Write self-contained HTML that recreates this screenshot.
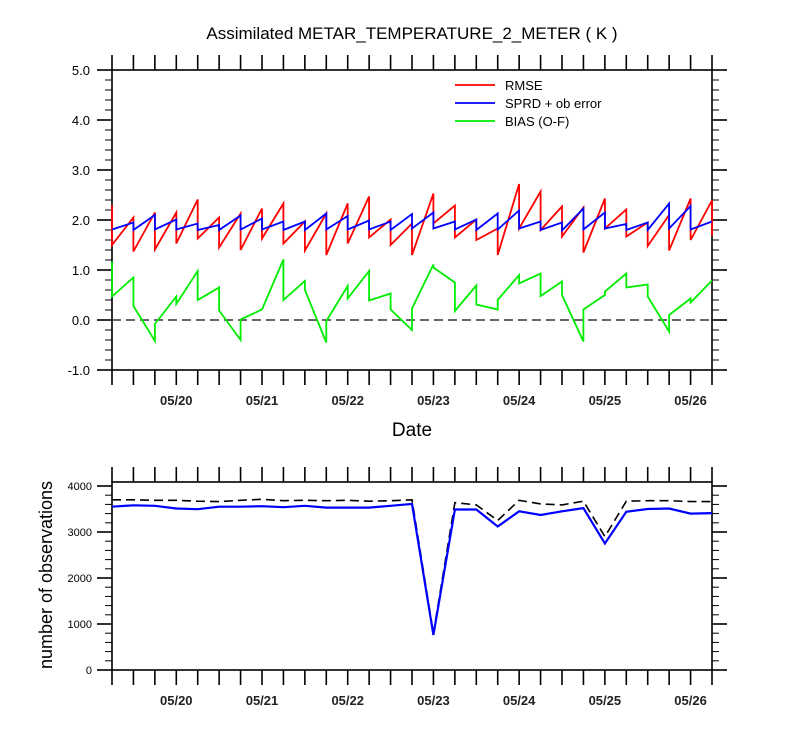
<!DOCTYPE html>
<html><head><meta charset="utf-8"><style>
body{margin:0;background:#fff;}
svg{display:block;font-family:"Liberation Sans",sans-serif;}
</style></head><body>
<svg id="chart" width="800" height="750" viewBox="0 0 800 750">
<text x="412" y="39" font-size="17" text-anchor="middle">Assimilated METAR_TEMPERATURE_2_METER ( K )</text>
<text x="412" y="436" font-size="19" text-anchor="middle">Date</text>
<text transform="translate(52,575) rotate(-90)" font-size="18" text-anchor="middle">number of observations</text>
<g id="topPanel"></g>
<g id="botPanel"></g>
</svg>
<script>
const dateLabels=["05/20","05/21","05/22","05/23","05/24","05/25","05/26"];
const dateTickIdx=[3,7,11,15,19,23,27];
const yTicksTop=[-1,0,1,2,3,4,5];
const yTicksBot=[0,1000,2000,3000,4000];
// prior/posterior pairs per 6h cycle
const rmsePrior=[2.3,2.05,2.15,2.15,2.41,2.05,2.13,2.23,2.33,1.97,2.13,2.33,2.47,2.01,1.93,2.53,2.29,2.01,1.83,2.72,2.57,2.27,2.25,2.43,2.21,1.95,2.1,2.43,2.39];
const rmsePost=[1.5,1.37,1.41,1.53,1.63,1.45,1.4,1.63,1.53,1.39,1.3,1.53,1.65,1.5,1.3,1.93,1.65,1.6,1.3,1.83,1.8,1.67,1.35,1.83,1.67,1.48,1.39,1.6,1.68];
const sprdPrior=[1.81,1.95,2.1,2.01,1.93,1.9,2.09,2.03,1.97,1.97,2.13,2.08,1.99,1.97,2.12,2.15,1.97,2.01,2.13,2.19,1.97,1.95,2.23,2.15,1.92,1.95,2.33,2.28,1.97];
const sprdPost=[1.81,1.8,1.81,1.81,1.8,1.8,1.81,1.81,1.8,1.8,1.81,1.81,1.81,1.8,1.83,1.83,1.81,1.8,1.81,1.83,1.8,1.79,1.81,1.83,1.8,1.8,1.83,1.81,1.97];
const biasPrior=[1.17,0.85,-0.42,0.47,0.98,0.65,-0.4,0.21,1.21,0.78,-0.45,0.68,0.98,0.53,-0.2,1.11,0.75,0.69,0.21,0.9,0.93,0.77,-0.43,0.5,0.93,0.71,-0.23,0.43,0.79];
const biasPost=[0.47,0.28,-0.08,0.32,0.4,0.19,0.01,0.21,0.4,0.6,-0.02,0.43,0.39,0.21,0.23,1.05,0.18,0.31,0.4,0.73,0.48,0.5,0.21,0.57,0.65,0.47,0.1,0.35,0.79];
const obsTotal=[3700,3700,3690,3690,3670,3660,3690,3710,3680,3690,3680,3690,3670,3680,3700,800,3640,3590,3250,3690,3610,3590,3670,2900,3670,3680,3680,3660,3660];
const obsUsed=[3550,3580,3570,3510,3495,3550,3550,3560,3540,3570,3530,3530,3530,3570,3610,760,3490,3490,3120,3450,3370,3450,3520,2750,3440,3500,3510,3400,3410];
const NS="http://www.w3.org/2000/svg";
const X0=112,X1=712,N=29;
function x(i){return X0+(X1-X0)*i/(N-1);}
function yT(v){return 70+(5-v)*50;}
function yB(v){return 670-v*0.046;}
function mk(p,tag,at){const e=document.createElementNS(NS,tag);for(const k in at)e.setAttribute(k,at[k]);p.appendChild(e);return e;}
function frame(g,y0,y1,name){
 const r=mk(g,'rect',{x:X0,y:y0,width:X1-X0,height:y1-y0,fill:'none',stroke:'#000','stroke-width':1.6});
 
 
 for(let i=0;i<N;i++){
  const t=mk(g,'line',{x1:x(i),x2:x(i),y1:y0,y2:y0-15,stroke:'#000','stroke-width':1.6});
  
  
  const b=mk(g,'line',{x1:x(i),x2:x(i),y1:y1,y2:y1+15,stroke:'#000','stroke-width':1.6});
  
  
 }
 dateLabels.forEach((d,k)=>{
  const t=mk(g,'text',{x:x(dateTickIdx[k]),y:y1+35,'font-size':13,'font-weight':'bold','text-anchor':'middle',fill:'#222'});
  t.textContent=d;
  
  
 });
}
function path(g,pts,col,w,dash,name){
 const p=mk(g,'path',{d:'M'+pts.map(q=>q[0].toFixed(1)+','+q[1].toFixed(1)).join('L'),fill:'none',stroke:col,'stroke-width':w,'stroke-linejoin':'miter'});
 if(dash)p.setAttribute('stroke-dasharray',dash);
 
 
}
const gTop=document.getElementById('topPanel'),gBot=document.getElementById('botPanel');
// top panel
frame(gTop,70,370,'top-panel');
yTicksTop.forEach(v=>{
 for(const side of [[X0,-15],[X1,15]]){
  const l=mk(gTop,'line',{x1:side[0],x2:side[0]+side[1],y1:yT(v),y2:yT(v),stroke:'#000','stroke-width':1.6});
  
  
 }
 const t=mk(gTop,'text',{x:90,y:yT(v)+5,'font-size':13,'text-anchor':'end'});
 t.textContent=v.toFixed(1);
 
 
});
for(let v=-1;v<5;v+=0.2){
 for(const side of [[X0,-7],[X1,7]]){
  const l=mk(gTop,'line',{x1:side[0],x2:side[0]+side[1],y1:yT(v),y2:yT(v),stroke:'#000','stroke-width':1});
  
  
 }
}
path(gTop,[[X0,yT(0)],[X1,yT(0)]],'#333',1.6,'9,5','zero-line');
function saw(a,b){const p=[];for(let i=0;i<N;i++){p.push([x(i),yT(a[i])]);p.push([x(i),yT(b[i])]);}return p;}
path(gTop,saw(rmsePrior,rmsePost),'#f00',1.8,null,'rmse-line');
path(gTop,saw(sprdPrior,sprdPost),'#00f',1.8,null,'sprd-line');
path(gTop,saw(biasPrior,biasPost),'#0e0',1.8,null,'bias-line');
[['RMSE','#f00',85],['SPRD + ob error','#00f',103],['BIAS (O-F)','#0e0',121]].forEach(e=>{
 const l=mk(gTop,'line',{x1:455,x2:495,y1:e[2],y2:e[2],stroke:e[1],'stroke-width':1.8});
 
 
 const t=mk(gTop,'text',{x:505,y:e[2]+5,'font-size':13});
 t.textContent=e[0];
 
 
});
// bottom panel
frame(gBot,482,670,'bottom-panel');
yTicksBot.forEach(v=>{
 for(const side of [[X0,-15],[X1,15]]){
  const l=mk(gBot,'line',{x1:side[0],x2:side[0]+side[1],y1:yB(v),y2:yB(v),stroke:'#000','stroke-width':1.6});
  
  
 }
 const t=mk(gBot,'text',{x:92,y:yB(v)+4,'font-size':11,'text-anchor':'end'});
 t.textContent=v;
 
 
});
for(let v=200;v<4080;v+=200){
 for(const side of [[X0,-7],[X1,7]]){
  const l=mk(gBot,'line',{x1:side[0],x2:side[0]+side[1],y1:yB(v),y2:yB(v),stroke:'#000','stroke-width':1});
  
  
 }
}
path(gBot,obsTotal.map((v,i)=>[x(i),yB(v)]),'#000',1.6,'9,5','obs-total-line');
path(gBot,obsUsed.map((v,i)=>[x(i),yB(v)]),'#00f',2.2,null,'obs-used-line');
</script>
</body></html>
